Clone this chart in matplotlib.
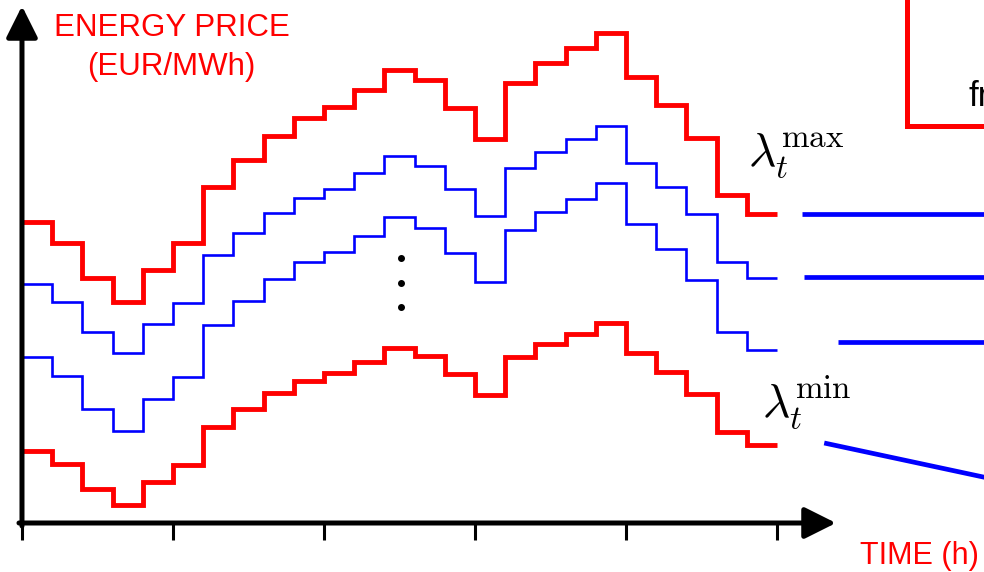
import numpy as np
import matplotlib
matplotlib.use("Agg")
import matplotlib.pyplot as plt

plt.rcParams['font.family'] = ['Liberation Sans', 'DejaVu Sans']
plt.rcParams['mathtext.fontset'] = 'cm'

# ---- data (hours 0..25, price in arbitrary EUR/MWh units) ----
hours = np.arange(26)
tick_hours = [0, 5, 10, 15, 20, 25]

price_max = [60.2, 56.0, 49.0, 44.2, 50.6, 56.0, 67.2, 72.6, 77.4, 81.0, 83.2, 86.6, 90.6,
             88.6, 83.0, 76.8, 88.0, 92.0, 95.0, 98.0, 89.2, 83.6, 77.0, 65.6, 61.8]
price_s1 = [47.8, 44.2, 38.2, 34.0, 39.8, 44.0, 53.6, 58.0, 62.0, 65.0, 66.8, 70.0, 73.4,
            71.4, 66.8, 61.4, 71.0, 74.2, 76.8, 79.4, 72.0, 67.2, 61.8, 52.2, 49.0]
price_s2 = [33.2, 29.4, 22.8, 18.4, 24.8, 29.2, 39.6, 44.4, 48.8, 52.2, 54.2, 57.4, 61.2,
            59.0, 54.0, 48.2, 58.6, 62.2, 64.8, 68.0, 59.8, 54.8, 48.6, 38.2, 34.6]
price_min = [14.4, 11.8, 6.8, 3.6, 8.2, 11.6, 19.2, 22.8, 26.0, 28.4, 30.0, 32.2, 35.0,
             33.4, 29.8, 25.6, 33.2, 35.8, 37.8, 40.0, 34.0, 30.2, 25.8, 18.2, 15.6]

# connector segments on the right: (x0, y0, x1, y1)
connectors = [(25.83, 61.8, 31.9, 61.8),
              (25.89, 49.2, 31.9, 49.2),
              (27.02, 36.2, 31.9, 36.2),
              (26.56, 16.0, 31.9, 9.1)]

dots_x = 12.55
dots_y = [53.0, 48.0, 43.2]

RED = '#ff0000'
BLUE = '#0000ff'

fig = plt.figure(figsize=(9.84, 5.72), dpi=100)
ax = fig.add_axes([0, 0, 1, 1])
ax.set_xlim(-0.728, 31.85)
ax.set_ylim(-9.8, 104.6)
ax.axis('off')

# step series
ax.stairs(price_max, hours, baseline=None, color=RED, lw=3.5)
ax.stairs(price_s1, hours, baseline=None, color=BLUE, lw=1.9)
ax.stairs(price_s2, hours, baseline=None, color=BLUE, lw=1.9)
ax.stairs(price_min, hours, baseline=None, color=RED, lw=3.5)

# dots
ax.plot([dots_x] * len(dots_y), dots_y, 'o', color='black', ms=4)

# axes with arrows
ax.annotate('', xy=(0, 103.4), xytext=(0, -0.6),
            arrowprops=dict(arrowstyle='-|>', lw=3.6, color='black',
                            mutation_scale=48, shrinkA=0, shrinkB=0))
ax.annotate('', xy=(26.95, 0), xytext=(-0.1, 0),
            arrowprops=dict(arrowstyle='-|>', lw=3.6, color='black',
                            mutation_scale=48, shrinkA=0, shrinkB=0))
for t in tick_hours:
    ax.plot([t, t], [0, -3.4], color='black', lw=2.2, solid_capstyle='butt')

# connectors
for x0, y0, x1, y1 in connectors:
    ax.plot([x0, x1], [y0, y1], color=BLUE, lw=3.4, solid_capstyle='butt')

# red box corner (part of a larger diagram)
ax.plot([29.3, 29.3, 32.0], [105.0, 79.4, 79.4], color=RED, lw=3.6,
        solid_joinstyle='miter')
ax.text(31.33, 83.4, 'fr', fontsize=25, color='black', ha='left', va='baseline')

# labels
ax.text(4.95, 97.4, 'ENERGY PRICE', fontsize=22.5, color=RED, ha='center', va='baseline')
ax.text(4.95, 89.6, '(EUR/MWh)', fontsize=22.5, color=RED, ha='center', va='baseline')
ax.text(27.75, -8.2, 'TIME (h)', fontsize=22, color=RED, ha='left', va='baseline')

ax.text(24.05, 71.4, r'$\lambda_t^{\mathrm{max}}$', fontsize=34, color='black',
        ha='left', va='baseline')
ax.text(24.5, 21.2, r'$\lambda_t^{\mathrm{min}}$', fontsize=34, color='black',
        ha='left', va='baseline')

fig.savefig('out.png', dpi=100)
